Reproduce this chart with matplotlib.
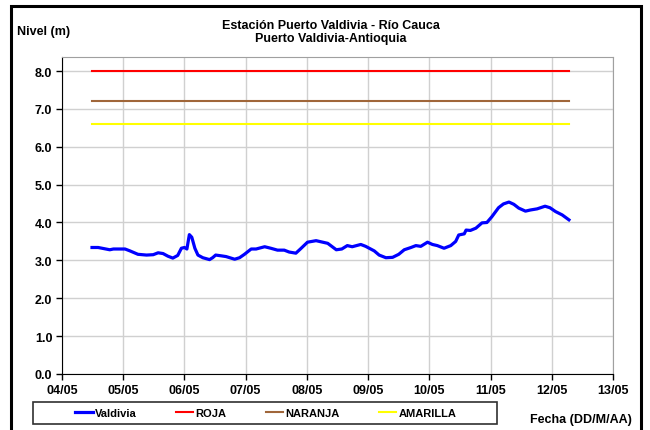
import matplotlib.pyplot as plt
from matplotlib.patches import Rectangle

# ----------------------------------------------------------------------
#   Data (x in days after 04/05)
# ----------------------------------------------------------------------
tick_labels = ['04/05', '05/05', '06/05', '07/05', '08/05',
               '09/05', '10/05', '11/05', '12/05', '13/05']

valdivia_day = [0.49, 0.59, 0.78, 0.84, 1.03, 1.11, 1.24, 1.38, 1.49, 1.57,
                1.65, 1.73, 1.81, 1.89, 1.95, 2.00, 2.04, 2.08, 2.12, 2.17,
                2.22, 2.30, 2.41, 2.46, 2.51, 2.60, 2.68, 2.82, 2.90, 2.98,
                3.09, 3.17, 3.31, 3.41, 3.52, 3.63, 3.71, 3.82, 3.90, 4.01,
                4.15, 4.34, 4.48, 4.57, 4.66, 4.74, 4.88, 4.96, 5.10, 5.18,
                5.29, 5.40, 5.50, 5.59, 5.70, 5.78, 5.86, 5.97, 6.05, 6.13,
                6.24, 6.35, 6.43, 6.48, 6.57, 6.60, 6.67, 6.76, 6.86, 6.94,
                7.02, 7.13, 7.21, 7.30, 7.38, 7.46, 7.57, 7.65, 7.76, 7.89,
                7.97, 8.06, 8.17, 8.28]
valdivia_level = [3.34, 3.34, 3.28, 3.30, 3.30, 3.25, 3.16, 3.14, 3.15, 3.20,
                  3.18, 3.11, 3.06, 3.13, 3.32, 3.34, 3.30, 3.68, 3.61, 3.32,
                  3.14, 3.07, 3.02, 3.07, 3.14, 3.12, 3.10, 3.03, 3.07, 3.16,
                  3.30, 3.30, 3.36, 3.32, 3.27, 3.27, 3.22, 3.19, 3.31, 3.48,
                  3.52, 3.45, 3.28, 3.30, 3.39, 3.36, 3.42, 3.37, 3.25, 3.14,
                  3.07, 3.08, 3.16, 3.28, 3.34, 3.39, 3.37, 3.48, 3.42, 3.39,
                  3.32, 3.39, 3.50, 3.67, 3.70, 3.80, 3.79, 3.85, 3.99, 4.00,
                  4.15, 4.39, 4.49, 4.54, 4.48, 4.38, 4.30, 4.33, 4.36, 4.43,
                  4.39, 4.29, 4.20, 4.07]

roja = 8.0
naranja = 7.2
amarilla = 6.6

# ----------------------------------------------------------------------
#   Plot
# ----------------------------------------------------------------------
plt.rcParams['font.family'] = ['Liberation Sans', 'DejaVu Sans']
plt.rcParams['font.weight'] = 'bold'

fig = plt.figure(figsize=(6.5, 4.31), dpi=100)
ax = fig.add_axes([0.0954, 0.13, 0.8477, 0.7354])

x0, x1 = valdivia_day[0], valdivia_day[-1]
ax.plot(valdivia_day, valdivia_level, '-', color='#0000FF', lw=2.3, label='Valdivia')
ax.plot([x0, x1], [roja, roja], '-', color='#FF0000', lw=1.5, label='ROJA')
ax.plot([x0, x1], [naranja, naranja], '-', color='#A0663A', lw=1.5, label='NARANJA')
ax.plot([x0, x1], [amarilla, amarilla], '-', color='#FFFF00', lw=1.5, label='AMARILLA')

ax.set_xlim(0, len(tick_labels) - 1)
ax.set_ylim(0, 8.37)
ax.set_xticks(range(len(tick_labels)))
ax.set_xticklabels(tick_labels)
ax.set_yticks([i for i in range(9)])
ax.set_yticklabels(['%.1f' % i for i in range(9)])
ax.tick_params(labelsize=9, length=4, width=1, direction='out', pad=3)
ax.grid(True, color='#D0D0D0', lw=1)
ax.set_axisbelow(True)
for s in ['top', 'right']:
    ax.spines[s].set_color('#A0A0A0')
for s in ['left', 'bottom']:
    ax.spines[s].set_color('black')

fig.text(0.509, 0.924, 'Estación Puerto Valdivia - Río Cauca\nPuerto Valdivia-Antioquia',
         ha='center', va='center', fontsize=9, fontweight='bold', linespacing=1.1)
fig.text(0.026, 0.926, 'Nivel (m)', ha='left', va='center', fontsize=9, fontweight='bold')
fig.text(0.972, 0.0255, 'Fecha (DD/M/AA)', ha='right', va='center', fontsize=9, fontweight='bold')

# legend box and entries
fig.patches.append(Rectangle((0.0508, 0.0139), 0.714, 0.051, transform=fig.transFigure,
                             fill=False, edgecolor='#303030', lw=1.2))
leg = fig.legend(loc='center left', ncol=4, bbox_to_anchor=(0.1154, 0.0394),
                 fontsize=8, frameon=False, handlelength=1.6, handletextpad=0.2,
                 columnspacing=3.5, borderpad=0, borderaxespad=0)

# outer frame
fig.patches.append(Rectangle((11 / 650, -0.05), 630 / 650, 1.05 - 7 / 431,
                             transform=fig.transFigure, fill=False,
                             edgecolor='black', lw=2.2))

fig.savefig('out.png', dpi=100)
